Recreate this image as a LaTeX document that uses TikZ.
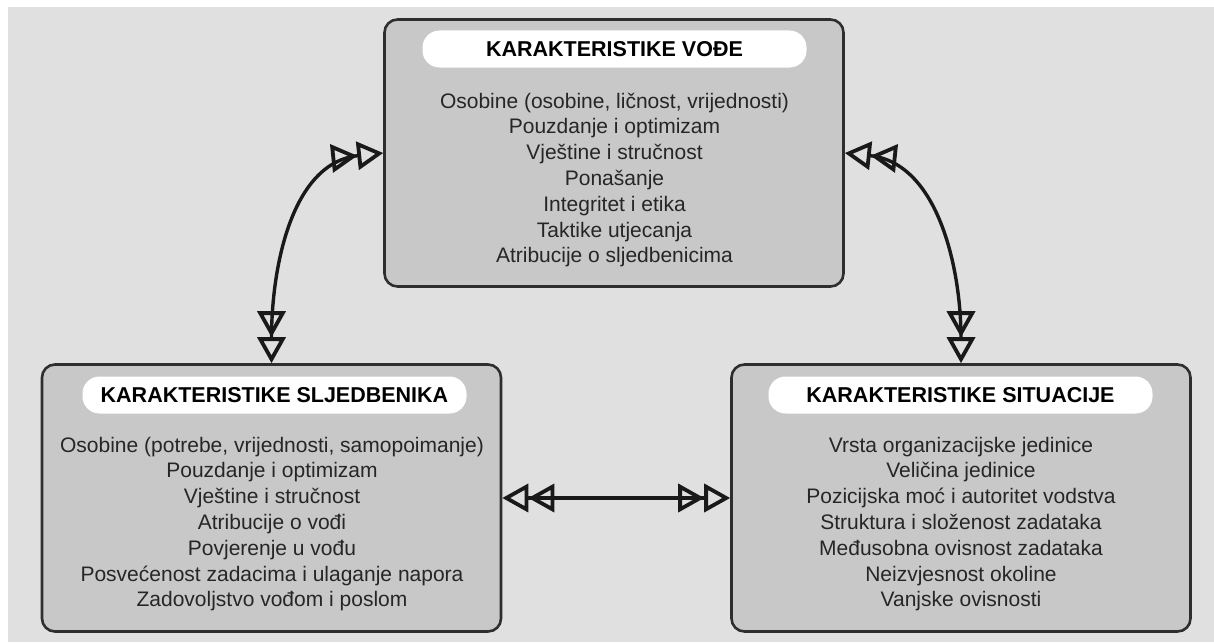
\documentclass[tikz,border=0pt]{standalone}
\usepackage{fontspec}
\setmainfont{Liberation Sans}
\usepackage{tikz}
\usetikzlibrary{arrows.meta}

\definecolor{bggray}{HTML}{E0E0E0}
\definecolor{boxgray}{HTML}{C8C8C8}
\definecolor{rimgray}{HTML}{2E2E2E}

\tikzset{
  box/.style={draw=rimgray,fill=boxgray,line width=2.6pt,rounded corners=13pt,
    minimum width=459pt,minimum height=267pt},
  pill/.style={fill=white,rounded corners=17pt,minimum width=384pt,minimum height=37pt,
    font=\fontsize{21.5}{24}\selectfont\bfseries},
  items/.style={align=center,text=black!85,font=\fontsize{21}{25.8}\selectfont},
  link/.style={line width=3.4pt,draw=black!90,
    arrows={Triangle[open,length=26pt,width=28pt,line width=3.8pt,sep=0pt]Triangle[open,length=26pt,width=28pt,line width=3.8pt]-Triangle[open,length=26pt,width=28pt,line width=3.8pt,sep=0pt]Triangle[open,length=26pt,width=28pt,line width=3.8pt]}},
}

\begin{document}
\begin{tikzpicture}[x=1pt,y=-1pt]
  \useasboundingbox (0,0) rectangle (1214,642);
  \fill[white] (0,0) rectangle (1214,642);
  \fill[bggray] (8,7) rectangle (1214,642);
  %
  \node[box] (V) at (614,153) {};
  \node[box] (S) at (271.5,498) {};
  \node[box] (T) at (961,498) {};
  %
  \node[pill] (Vt) at (614.5,49) {KARAKTERISTIKE VOĐE};
  \node[pill] (St) at (274.5,395) {KARAKTERISTIKE SLJEDBENIKA};
  \node[pill] (Tt) at (960.5,395) {KARAKTERISTIKE SITUACIJE};
  %
  \node[items] (Vi) at (614.5,180) {Osobine (osobine, ličnost, vrijednosti)\\
    Pouzdanje i optimizam\\ Vještine i stručnost\\ Ponašanje\\
    Integritet i etika\\ Taktike utjecanja\\ Atribucije o sljedbenicima};
  \node[items] (Si) at (272,524) {Osobine (potrebe, vrijednosti, samopoimanje)\\
    Pouzdanje i optimizam\\ Vještine i stručnost\\ Atribucije o vođi\\
    Povjerenje u vođu\\ Posvećenost zadacima i ulaganje napora\\
    Zadovoljstvo vođom i poslom};
  \node[items] (Ti) at (961,524) {Vrsta organizacijske jedinice\\
    Veličina jedinice\\ Pozicijska moć i autoritet vodstva\\
    Struktura i složenost zadataka\\ Međusobna ovisnost zadataka\\
    Neizvjesnost okoline\\ Vanjske ovisnosti};
  %
  \draw[link] (V.west) to[out=186,in=90] (S.north);
  \draw[link] (V.east) to[out=-6,in=90] (T.north);
  \draw[link] (S.east) -- (T.west);
\end{tikzpicture}
\end{document}
